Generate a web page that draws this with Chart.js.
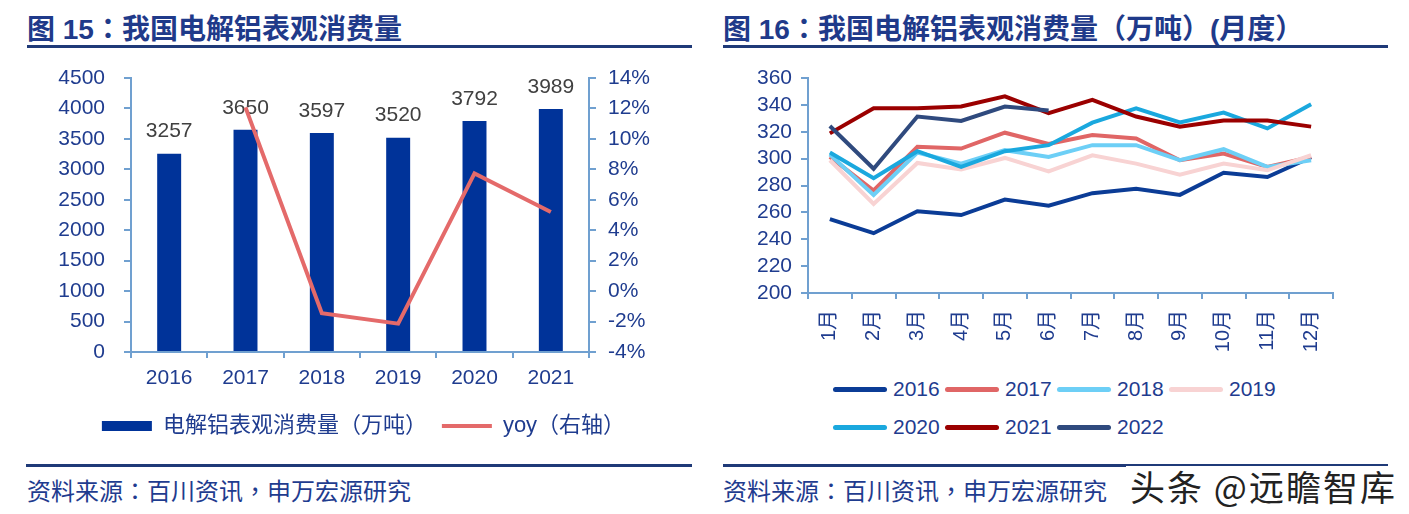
<!DOCTYPE html>
<html><head><meta charset="utf-8">
<script src="https://cdn.jsdelivr.net/npm/chart.js@4.4.1/dist/chart.umd.min.js"></script>
<style>
html,body{margin:0;padding:0;background:#fff;}
body{width:1409px;height:514px;position:relative;overflow:hidden;font-family:'Liberation Sans','Noto Sans CJK SC',sans-serif;}
.abs{position:absolute;}
.title{font-family:'Liberation Sans','Noto Sans CJK SC',sans-serif;font-weight:bold;font-size:28px;color:#1F3A8A;line-height:28px;white-space:nowrap;}
.p{font-family:'Noto Sans CJK TC',sans-serif;}
.rule{height:3px;background:#1F3A78;}
.src{font-family:'Noto Sans CJK SC',sans-serif;font-size:24px;color:#1F3C8F;line-height:24px;white-space:nowrap;}
.lg{display:grid;grid-template-columns:repeat(4,112px);grid-auto-rows:38px;}
.lgi{display:flex;align-items:center;font-family:'Liberation Sans',sans-serif;font-size:21px;color:#1F3C8F;white-space:nowrap;}
.sw{display:inline-block;width:54px;height:5px;border-radius:2.5px;margin-right:6px;}
.wm{background:#fff;font-family:'Noto Sans CJK SC',sans-serif;font-size:35px;letter-spacing:2px;line-height:40px;color:#222;white-space:nowrap;padding:0 4px;}
</style></head>
<body>
<div class="abs title" style="left:27px;top:13px;">图 15<span class="p">：</span>我国电解铝表观消费量</div>
<div class="abs rule" style="left:27px;top:45px;width:665px;"></div>
<canvas id="c1" class="abs" width="700" height="387" style="left:0;top:60px;width:700px;height:387px;"></canvas>
<div class="abs rule" style="left:26px;top:464px;width:666px;"></div>
<div class="abs src" style="left:27px;top:478px;">资料来源<span class="p">：</span>百川资讯<span class="p">，</span>申万宏源研究</div>

<div class="abs title" style="left:723px;top:13px;">图 16<span class="p">：</span>我国电解铝表观消费量<span class="p">（</span>万吨<span class="p">）</span>(月度<span class="p">）</span></div>
<div class="abs rule" style="left:723px;top:45px;width:665px;"></div>
<canvas id="c2" class="abs" width="689" height="300" style="left:720px;top:60px;width:689px;height:300px;"></canvas>
<div id="lg2" class="abs lg" style="left:833px;top:370px;"></div>
<div class="abs rule" style="left:723px;top:464px;width:665px;"></div>
<div class="abs src" style="left:723px;top:478px;">资料来源<span class="p">：</span>百川资讯<span class="p">，</span>申万宏源研究</div>
<div class="abs wm" style="left:1126px;top:466px;">头条 @远瞻智库</div>

<script>
// ---- Figure 15 data ----
const years = ['2016','2017','2018','2019','2020','2021'];
const consumption = [3257, 3650, 3597, 3520, 3792, 3989];
const yoy = [null, 12.07, -1.45, -2.14, 7.73, 5.20];
const barName = '电解铝表观消费量（万吨）';
const yoyName = 'yoy（右轴）';

// ---- Figure 16 data ----
const months = ['1月','2月','3月','4月','5月','6月','7月','8月','9月','10月','11月','12月'];
const seriesNames = ['2016','2017','2018','2019','2020','2021','2022'];
const s2016 = [255, 244.5, 260.8, 258, 269.5, 265, 274.3, 277.5, 273, 289.5, 286.3, 301];
const s2017 = [301.3, 276.3, 308.8, 307.5, 319.3, 311, 317.5, 315, 298.8, 303.8, 293.8, 301.3];
const s2018 = [303, 273, 304.5, 296.3, 306.3, 301.3, 310, 310, 298.8, 307, 293.8, 298.8];
const s2019 = [298.8, 266.3, 296.8, 292, 300.5, 290.5, 302.5, 296.3, 288, 296.3, 291.3, 302.5];
const s2020 = [304.5, 285.5, 305.5, 293.8, 305.5, 310, 326.8, 337.5, 327, 334.3, 322.5, 340.5];
const s2021 = [318.8, 337.5, 337.5, 338.8, 346.3, 333.8, 343.8, 331.3, 323.8, 328.3, 328.3, 323.8];
const s2022 = [324.3, 292.5, 331.3, 328, 338.8, 335.8, null, null, null, null, null, null];
const seriesColors = ['#0B3C96','#E06666','#6DCFF6','#F8D3D3','#1AA8DE','#9B0000','#2F4A7E'];

const FONT = "'Liberation Sans','Noto Sans CJK TC',sans-serif";
const NAVY = '#1F3C8F';
const AXIS = '#70A0D0';

function fixY(width) {
  return s => { s.width = width; s.paddingTop = 0; s.paddingBottom = 0; };
}

const barLabels = {
  id: 'barLabels',
  afterDatasetDraw(chart, args) {
    if (args.index !== 0) return;
    const ctx = chart.ctx;
    ctx.save();
    ctx.font = "21px " + FONT;
    ctx.fillStyle = '#404040';
    ctx.textAlign = 'center';
    ctx.textBaseline = 'middle';
    args.meta.data.forEach((el, i) => {
      ctx.fillText(String(consumption[i]), el.x, el.y - 22);
    });
    ctx.restore();
  }
};

new Chart(document.getElementById('c1'), {
  type: 'bar',
  data: {
    labels: years,
    datasets: [
      { type: 'bar', label: barName, data: consumption, backgroundColor: '#003399',
        borderWidth: 0, barPercentage: 0.314, categoryPercentage: 1, yAxisID: 'y', order: 1, pointStyle: 'rect' },
      { type: 'line', label: yoyName, data: yoy, borderColor: '#E46A6A', backgroundColor: '#E46A6A',
        borderWidth: 4, pointRadius: 0, tension: 0, yAxisID: 'y1', order: 0, pointStyle: 'line', spanGaps: false }
    ]
  },
  options: {
    responsive: false, animation: false, devicePixelRatio: 1,
    layout: { autoPadding: false, padding: { top: 18, left: 27, right: 0, bottom: 0 } },
    plugins: {
      tooltip: { enabled: false },
      legend: {
        position: 'bottom',
        labels: {
          usePointStyle: true, pointStyleWidth: 50, boxHeight: 10, padding: 15,
          font: { family: FONT, size: 22 }, color: NAVY,
          sort: (a, b) => a.datasetIndex - b.datasetIndex
        }
      }
    },
    scales: {
      x: {
        offset: true,
        grid: { offset: true, drawOnChartArea: false, drawTicks: true, tickLength: 6, color: AXIS, lineWidth: 2 },
        border: { display: true, color: AXIS, width: 2 },
        ticks: { font: { family: FONT, size: 21 }, color: NAVY, padding: 8 },
        afterFit: s => { s.height = 48; }
      },
      y: {
        position: 'left', min: 0, max: 4500,
        grid: { drawOnChartArea: false, drawTicks: true, tickLength: 7, color: AXIS, lineWidth: 2 },
        border: { display: true, color: AXIS, width: 2 },
        ticks: { stepSize: 500, autoSkip: false, font: { family: FONT, size: 21 }, color: NAVY, padding: 19, callback: v => String(v) },
        afterFit: fixY(104)
      },
      y1: {
        position: 'right', min: -4, max: 14,
        grid: { drawOnChartArea: false, drawTicks: true, tickLength: 7, color: AXIS, lineWidth: 2 },
        border: { display: true, color: AXIS, width: 2 },
        ticks: { stepSize: 2, autoSkip: false, font: { family: FONT, size: 21 }, color: NAVY, padding: 12, callback: v => v + '%' },
        afterFit: fixY(111)
      }
    }
  },
  plugins: [barLabels]
});

const monthly = [s2016, s2017, s2018, s2019, s2020, s2021, s2022];
new Chart(document.getElementById('c2'), {
  type: 'line',
  data: {
    labels: months,
    datasets: monthly.map((d, i) => ({
      label: seriesNames[i], data: d, borderColor: seriesColors[i], backgroundColor: seriesColors[i],
      borderWidth: 4, pointRadius: 0, tension: 0, order: 10 - i, spanGaps: false
    }))
  },
  options: {
    responsive: false, animation: false, devicePixelRatio: 1,
    layout: { autoPadding: false, padding: { top: 18, left: 0, right: 76, bottom: 0 } },
    plugins: { legend: { display: false }, tooltip: { enabled: false } },
    scales: {
      x: {
        offset: true,
        grid: { offset: true, drawOnChartArea: false, drawTicks: true, tickLength: 6, color: AXIS, lineWidth: 2 },
        border: { display: true, color: AXIS, width: 2 },
        ticks: { font: { family: FONT, size: 20 }, color: NAVY, padding: 11, minRotation: 90, maxRotation: 90, autoSkip: false },
        afterFit: s => { s.height = 67; }
      },
      y: {
        min: 200, max: 360,
        grid: { drawOnChartArea: false, drawTicks: true, tickLength: 7, color: AXIS, lineWidth: 2 },
        border: { display: true, color: AXIS, width: 2 },
        ticks: { stepSize: 20, autoSkip: false, font: { family: FONT, size: 21 }, color: NAVY, padding: 9 },
        afterFit: fixY(88)
      }
    }
  }
});

// HTML legend for figure 16 (two rows, left-aligned like the original)
const lg = document.getElementById('lg2');
seriesNames.forEach((n, i) => {
  const item = document.createElement('div');
  item.className = 'lgi';
  const sw = document.createElement('span');
  sw.className = 'sw';
  sw.style.background = seriesColors[i];
  item.appendChild(sw);
  item.appendChild(document.createTextNode(n));
  lg.appendChild(item);
});
</script>
</body></html>
